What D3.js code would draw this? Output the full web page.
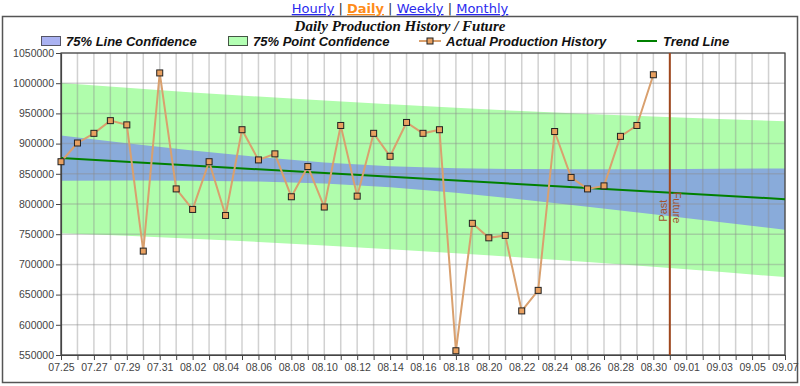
<!DOCTYPE html>
<html><head><meta charset="utf-8">
<script src="https://cdn.jsdelivr.net/npm/d3@7"></script>
<style>
html,body{margin:0;padding:0;background:#fff;}
svg{display:block;}
</style></head>
<body>
<svg id="chart" width="800" height="386"></svg>
<script>
// ---- data ----
const dates = ["07.25","07.26","07.27","07.28","07.29","07.30","07.31",
  "08.01","08.02","08.03","08.04","08.05","08.06","08.07","08.08","08.09","08.10",
  "08.11","08.12","08.13","08.14","08.15","08.16","08.17","08.18","08.19","08.20",
  "08.21","08.22","08.23","08.24","08.25","08.26","08.27","08.28","08.29","08.30",
  "08.31","09.01","09.02","09.03","09.04","09.05","09.06","09.07"];
const xTickLabels = ["07.25","07.27","07.29","07.31","08.02","08.04","08.06","08.08","08.10",
  "08.12","08.14","08.16","08.18","08.20","08.22","08.24","08.26","08.28","08.30",
  "09.01","09.03","09.05","09.07"];
const yTicks = [550000,600000,650000,700000,750000,800000,850000,900000,950000,1000000,1050000];
const actualDates = dates.slice(0, 37);
const actualValues = [870000,901000,917000,938000,931000,722000,1017000,
  825000,791000,870000,781000,923000,873000,883000,812000,862000,795000,930000,813000,
  917000,879000,935000,917000,923000,557000,768000,744000,748000,623000,657000,920000,
  844000,825000,830000,912000,930000,1014000];
const bandDates = ["07.25","07.29","08.02","08.06","08.10","08.14","08.18","08.22","08.26","08.30","09.03","09.07"];
const lineConfUpper = [913300,900700,888700,877900,868800,862600,859300,857800,857400,857700,858200,858800];
const lineConfLower = [838700,838900,838500,837100,833800,827600,818500,807600,795600,783100,770300,757200];
const pointConfUpper = [1000300,992300,984800,977800,971200,965000,959200,953900,949000,944700,940700,937000];
const pointConfLower = [751700,747300,742400,737200,731400,725200,718600,711500,704000,696100,687700,679000];
const trendDates = ["07.25","09.07"];
const trendValues = [876000,808000];
const dividerDate = "08.31";
const legendLabels = ["75% Line Confidence","75% Point Confidence","Actual Production History","Trend Line"];
const navLinks = ["Hourly","Daily","Weekly","Monthly"];
const titleText = "Daily Production History / Future";

// ---- layout ----
const svg = d3.select("#chart");
const L = 61, R = 785, T = 53, B = 355;
const x = d3.scalePoint().domain(dates).range([L, R]).padding(0);
const y = d3.scaleLinear().domain([550000, 1050000]).range([B, T]);

// outer frame
svg.append("rect").attr("x", 2.5).attr("y", 16.5).attr("width", 795).attr("height", 366)
  .attr("fill", "none").attr("stroke", "#555").attr("stroke-width", 1.5);

// nav links
const nav = svg.append("text").attr("x", 400).attr("y", 13).attr("text-anchor", "middle")
  .style("font-family", "DejaVu Sans, Verdana, sans-serif").style("font-size", "13px");
navLinks.forEach((n, i) => {
  if (i > 0) nav.append("tspan").attr("fill", "#333").text(" | ");
  const t = nav.append("tspan").text(n).attr("text-decoration", "underline");
  if (n === "Daily") t.attr("fill", "#ff8c1a").style("font-weight", "bold");
  else t.attr("fill", "#2a2aee");
});

// title
svg.append("text").attr("x", 400).attr("y", 31).attr("text-anchor", "middle")
  .style("font-family", "Liberation Serif, Times New Roman, serif")
  .style("font-size", "15px").style("font-weight", "bold").style("font-style", "italic")
  .attr("fill", "#111").text(titleText);

// legend
const lg = svg.append("g").style("font-family", "Liberation Sans, Arial, sans-serif")
  .style("font-size", "13px").style("font-weight", "bold").style("font-style", "italic");
lg.append("rect").attr("x", 41.5).attr("y", 36.5).attr("width", 19).attr("height", 9)
  .attr("fill", "#aab2f2").attr("stroke", "#556");
lg.append("text").attr("x", 66).attr("y", 46).attr("fill", "#111").text(legendLabels[0]);
lg.append("rect").attr("x", 228.5).attr("y", 36.5).attr("width", 19).attr("height", 9)
  .attr("fill", "#b3ffb3").attr("stroke", "#454");
lg.append("text").attr("x", 253).attr("y", 46).attr("fill", "#111").text(legendLabels[1]);
lg.append("line").attr("x1", 419).attr("x2", 441).attr("y1", 41).attr("y2", 41)
  .attr("stroke", "#d9a06e").attr("stroke-width", 2);
lg.append("rect").attr("x", 427).attr("y", 38).attr("width", 6).attr("height", 6)
  .attr("fill", "#e8a060").attr("stroke", "#222");
lg.append("text").attr("x", 446).attr("y", 46).attr("fill", "#111").text(legendLabels[2]);
lg.append("line").attr("x1", 637).attr("x2", 657).attr("y1", 41).attr("y2", 41)
  .attr("stroke", "#008000").attr("stroke-width", 2);
lg.append("text").attr("x", 663).attr("y", 46).attr("fill", "#111").text(legendLabels[3]);

// bands
const pcArea = d3.area().x((d, i) => x(bandDates[i]))
  .y0((d, i) => y(pointConfLower[i])).y1((d, i) => y(pointConfUpper[i]));
svg.append("path").datum(bandDates).attr("d", pcArea).attr("fill", "#b0fdac");
const lcArea = d3.area().x((d, i) => x(bandDates[i]))
  .y0((d, i) => y(lineConfLower[i])).y1((d, i) => y(lineConfUpper[i]));
svg.append("path").datum(bandDates).attr("d", lcArea).attr("fill", "#89abda");

// grid
const grid = svg.append("g").attr("stroke", "rgba(140,140,140,0.4)").attr("stroke-width", 1.5);
dates.forEach(d => grid.append("line").attr("x1", x(d)).attr("x2", x(d)).attr("y1", T).attr("y2", B));
yTicks.forEach(v => grid.append("line").attr("x1", L).attr("x2", R).attr("y1", y(v)).attr("y2", y(v)));

// plot frame
svg.append("rect").attr("x", L).attr("y", T).attr("width", R - L).attr("height", B - T)
  .attr("fill", "none").attr("stroke", "#444").attr("stroke-width", 1.2);

// axes
const yAxis = d3.axisLeft(y).tickValues(yTicks).tickSize(5).tickSizeOuter(0).tickFormat(d3.format("d"));
const gy = svg.append("g").attr("transform", `translate(${L},0)`).call(yAxis);
const xAxis = d3.axisBottom(x).tickValues(dates).tickSize(5).tickSizeOuter(0)
  .tickFormat(d => xTickLabels.includes(d) ? d : "");
const gx = svg.append("g").attr("transform", `translate(0,${B})`).call(xAxis);
[gx, gy].forEach(g => {
  g.select(".domain").attr("stroke", "#444").attr("stroke-width", 1.2);
  g.selectAll(".tick line").attr("stroke", "#444");
  g.selectAll("text").attr("fill", "#444")
    .style("font-family", "Liberation Sans, Arial, sans-serif").style("font-size", "10.5px");
});
gy.selectAll("text").attr("x", -7);
gx.selectAll("text").attr("y", 9);

// trend line
svg.append("path").datum(trendDates)
  .attr("d", d3.line().x((d) => x(d)).y((d, i) => y(trendValues[i])))
  .attr("fill", "none").attr("stroke", "#008000").attr("stroke-width", 2);

// past/future divider
const dx = x(dividerDate);
svg.append("line").attr("x1", dx).attr("x2", dx).attr("y1", T).attr("y2", B)
  .attr("stroke", "#a0481e").attr("stroke-width", 2);
const ty = y(trendValues[0] + (trendValues[1] - trendValues[0]) * dates.indexOf(dividerDate) / (dates.length - 1));
svg.append("text").attr("transform", `translate(${dx - 3},${ty + 7}) rotate(-90)`)
  .attr("text-anchor", "end").attr("fill", "#a0522d")
  .style("font-family", "Liberation Sans, Arial, sans-serif").style("font-size", "11px").text("Past");
svg.append("text").attr("transform", `translate(${dx + 3},${ty - 1}) rotate(90)`)
  .attr("text-anchor", "start").attr("fill", "#a0522d")
  .style("font-family", "Liberation Sans, Arial, sans-serif").style("font-size", "11px").text("Future");

// actual data
svg.append("path").datum(actualValues)
  .attr("d", d3.line().x((d, i) => x(actualDates[i])).y(d => y(d)))
  .attr("fill", "none").attr("stroke", "#d9a06e").attr("stroke-width", 2);
svg.append("g").selectAll("rect").data(actualValues).join("rect")
  .attr("x", (d, i) => x(actualDates[i]) - 3).attr("y", d => y(d) - 3)
  .attr("width", 6).attr("height", 6)
  .attr("fill", "#e8a060").attr("stroke", "#222").attr("stroke-width", 1);
</script>
</body></html>
